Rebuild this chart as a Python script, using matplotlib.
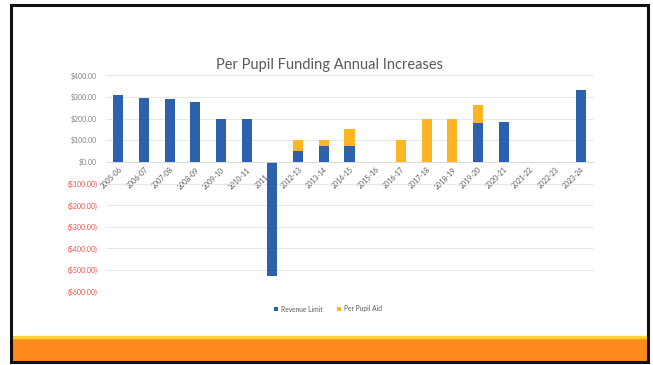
import numpy as np
import matplotlib.pyplot as plt
from matplotlib.patches import Rectangle

plt.rcParams['font.family'] = ['Lato', 'DejaVu Sans']

years = ['2005-06', '2006-07', '2007-08', '2008-09', '2009-10', '2010-11',
         '2011-12', '2012-13', '2013-14', '2014-15', '2015-16', '2016-17',
         '2017-18', '2018-19', '2019-20', '2020-21', '2021-22', '2022-23',
         '2023-24']
revenue_limit = [310, 295, 292, 275, 200, 200, -527, 50, 75, 75, 0, 0,
                 0, 0, 180, 182, 0, 0, 330]
per_pupil_aid = [0, 0, 0, 0, 0, 0, 0, 50, 25, 75, 0, 100,
                 200, 200, 85, 0, 0, 0, 0]
y_ticks = [400, 300, 200, 100, 0, -100, -200, -300, -400, -500, -600]

blue = '#2D61AE'
gold = '#FDB623'
grey = '#808080'
red = '#F0504A'


def money(v):
    if v < 0:
        return f"(${-v:,.2f})"
    return f"${v:,.2f}"


fig = plt.figure(figsize=(6.53, 3.65), dpi=100)
fig.patch.set_facecolor('white')

# slide frame and orange footer band
fig.patches.append(Rectangle((12 / 653, 3 / 365), 636 / 653, 25 / 365,
                             transform=fig.transFigure, color='#FF8A1C', zorder=0))
fig.patches.append(Rectangle((12 / 653, 27 / 365), 636 / 653, 2.5 / 365,
                             transform=fig.transFigure, color='#FFD23C', zorder=0))
fig.patches.append(Rectangle((11 / 653, 3 / 365), 637 / 653, 357 / 365,
                             transform=fig.transFigure, fill=False,
                             edgecolor='#111111', linewidth=2.2, zorder=5))

ax = fig.add_axes([105.5 / 653, 1 - 291.7 / 365, 488 / 653, (291.7 - 75.3) / 365])
x = np.arange(len(years))
rl = np.array(revenue_limit, dtype=float)
ppa = np.array(per_pupil_aid, dtype=float)
w = 0.39
ax.bar(x, rl, width=w, color=blue, label='Revenue Limit', zorder=2)
ax.bar(x, ppa, width=w, bottom=np.clip(rl, 0, None), color=gold,
       label='Per Pupil Aid', zorder=2)

ax.set_xlim(-0.5, len(years) - 0.5)
ax.set_ylim(-600, 400)
ax.set_yticks(y_ticks)
ax.set_yticklabels([money(v) for v in y_ticks], fontsize=5)
for lbl, v in zip(ax.get_yticklabels(), y_ticks):
    lbl.set_color(red if v < 0 else grey)
ax.tick_params(axis='y', length=0, pad=6)
ax.grid(axis='y', color='#E3E3E3', linewidth=0.6, zorder=0)
ax.set_axisbelow(True)

ax.spines['bottom'].set_position(('data', 0))
ax.spines['bottom'].set_color('#D9D9D9')
ax.spines['bottom'].set_linewidth(0.6)
for s in ['top', 'right', 'left']:
    ax.spines[s].set_visible(False)
ax.set_xticks(x)
ax.set_xticklabels(years, fontsize=5, color='#595959', rotation=45,
                   ha='right', va='top', rotation_mode='anchor')
ax.tick_params(axis='x', length=0, pad=3)

fig.text(330 / 653, 1 - 65 / 365, 'Per Pupil Funding Annual Increases',
         ha='center', va='center', fontsize=10.5, color='#595959')

ax.legend(loc='center', bbox_to_anchor=(328 / 653, 1 - 309 / 365),
          bbox_transform=fig.transFigure, ncol=2, frameon=False,
          fontsize=4.8, labelcolor='#595959', handlelength=0.6,
          handleheight=0.6, columnspacing=2.2, handletextpad=0.4)

fig.savefig('out.png', dpi=100)
